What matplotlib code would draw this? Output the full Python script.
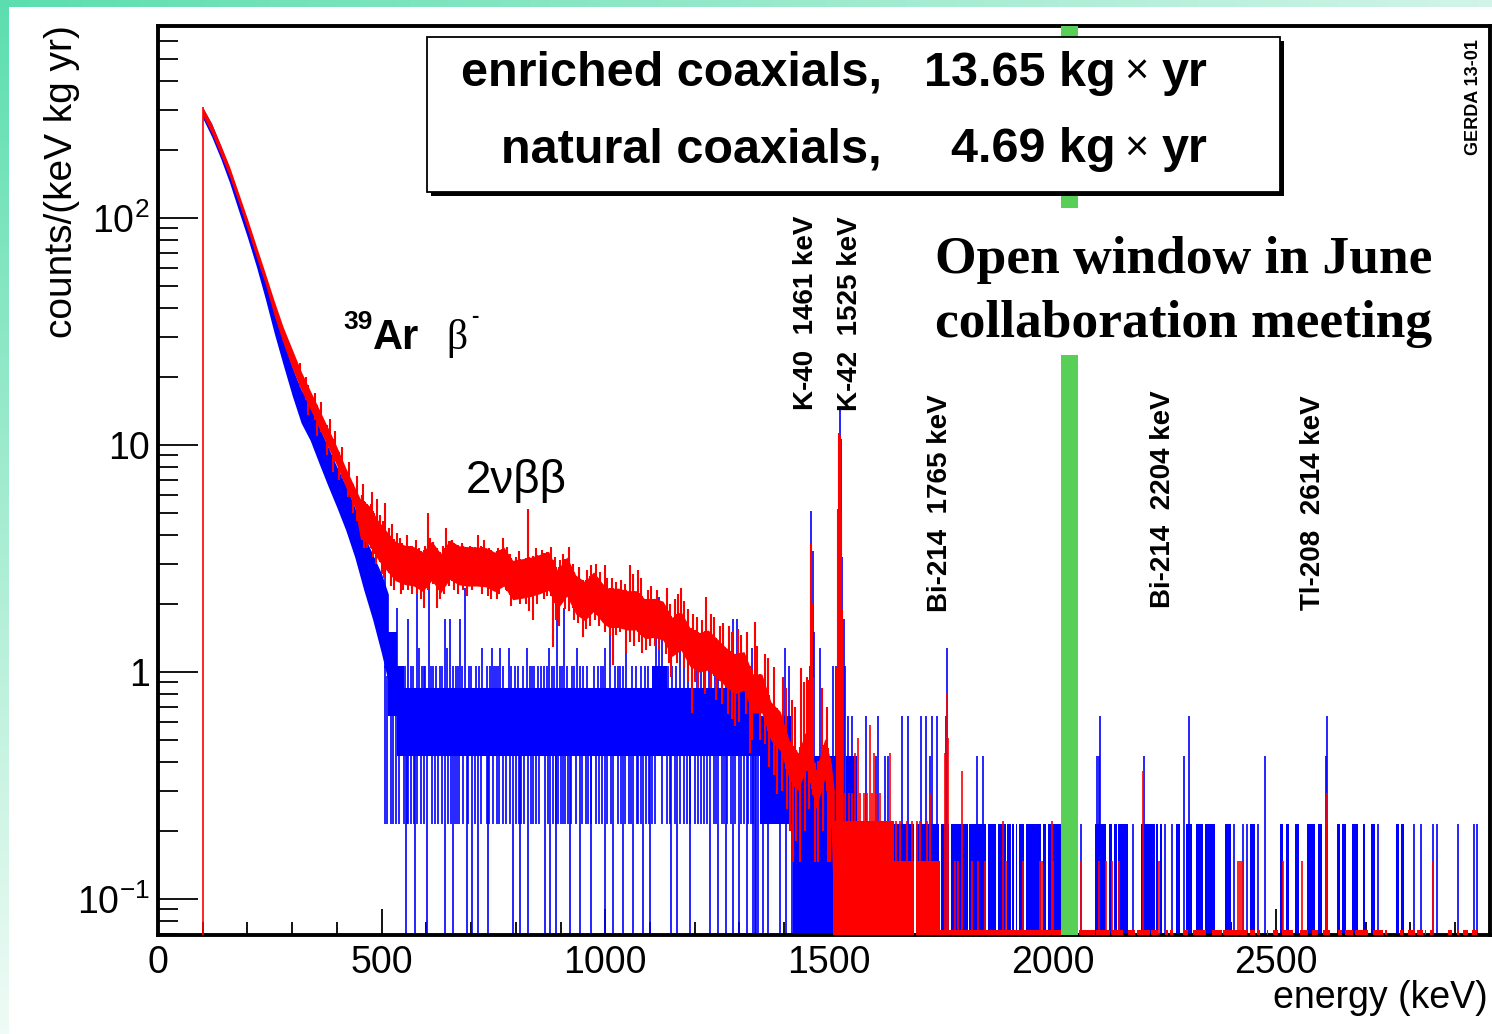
import numpy as np
import matplotlib
matplotlib.use("Agg")
import matplotlib.pyplot as plt
from matplotlib.patches import Rectangle
from matplotlib.ticker import MultipleLocator, NullFormatter

plt.rcParams["font.family"] = ["Liberation Sans", "DejaVu Sans"]
plt.rcParams["mathtext.fontset"] = "custom"
plt.rcParams["mathtext.rm"] = "Liberation Sans"
plt.rcParams["mathtext.it"] = "Liberation Sans:italic"
plt.rcParams["mathtext.bf"] = "Liberation Sans:bold"

W, H = 1492, 1034
RED, BLUE, GREEN = "#ff0000", "#0000ff", "#58d058"

EXPO_ENR = 13.65   # kg yr, enriched coaxials
EXPO_NAT = 4.69    # kg yr, natural coaxials
YMIN, YMAX = 0.0694, 700.0
XMAX = 2978
BLIND_WINDOW = (2019, 2057)

# ---- enriched coaxials: core of the continuum, counts/(keV kg yr) ----
red_band_e = [100, 120, 140, 160, 180, 200, 220, 240, 260, 280, 300, 320, 340, 360, 380, 400, 420, 440,
              452, 472, 492, 511, 531, 551, 572, 592, 612, 632, 652, 672, 692, 712, 733, 753, 773, 793,
              813, 833, 853, 873, 893, 914, 934, 954, 974, 994, 1008, 1029, 1049, 1069, 1089, 1109, 1129, 1149,
              1169, 1189, 1210, 1230, 1250, 1270, 1290, 1310, 1330, 1350, 1370, 1391, 1411, 1431, 1450, 1471,
              1491, 1505, 1512]
red_band_hi = [308, 260, 210, 168, 129, 99, 75, 57, 43, 33, 26.4, 21.1, 17.4, 14.4, 11.9, 9.8, 7.9, 6.5,
               5.8, 5.4, 4.65, 4.17, 3.75, 3.62, 3.56, 3.37, 3.77, 3.32, 3.81, 3.6, 3.56, 3.55, 3.53, 3.37, 3.55, 3.1,
               3.15, 3.2, 3.29, 3.4, 2.81, 3.21, 2.67, 2.5, 2.76, 2.45, 2.33, 2.34, 2.28, 2.28, 2.09, 2.11, 2.05, 1.74,
               1.85, 1.57, 1.49, 1.53, 1.4, 1.28, 1.2, 1.23, 0.98, 0.98, 0.74, 0.67, 0.5, 0.44, 0.56, 0.37,
               0.51, 0.4, 0.3]
red_band_lo = [282, 236, 190, 152, 117, 89, 67, 51, 37, 28, 21.8, 17.5, 14.4, 11.9, 9.8, 8.1, 6.5, 5.3,
               3.9, 3.63, 3.12, 2.8, 2.52, 2.43, 2.39, 2.26, 2.53, 2.23, 2.56, 2.42, 2.39, 2.39, 2.37, 2.26, 2.39, 2.08,
               2.11, 2.15, 2.21, 2.29, 1.89, 2.16, 1.8, 1.68, 1.85, 1.65, 1.57, 1.57, 1.53, 1.53, 1.4, 1.42, 1.38, 1.17,
               1.25, 1.06, 1.0, 1.02, 0.94, 0.86, 0.8, 0.83, 0.66, 0.66, 0.5, 0.45, 0.34, 0.3, 0.38, 0.25,
               0.34, 0.2, 0.0733]

# bins sticking out above the core (keV, counts/(keV kg yr)), incl. K-40 / K-42 lines
red_spike_e = [318, 331, 352, 365, 384, 395, 412, 427, 446, 458, 478, 490,
               456, 463, 476, 484, 497, 503, 508, 517, 523, 534, 540, 546, 556, 563, 577, 584, 598, 603,
               609, 617, 627, 637, 645, 657, 664, 679, 686, 698, 705, 716, 722, 729, 741, 760, 766, 772,
               780, 787, 800, 806, 818, 828, 845, 858, 866, 879, 887, 899, 905, 920, 928, 942, 960, 968,
               980, 988, 999, 1003, 1015, 1023, 1036, 1043, 1055, 1062, 1074, 1080, 1095, 1102, 1115, 1137,
               1145, 1156, 1163, 1170, 1177, 1184, 1197, 1204, 1217, 1226, 1237, 1244, 1257, 1264, 1277,
               1284, 1297, 1303, 1317, 1334, 1340, 1357, 1364, 1377, 1398, 1405, 1418, 1425, 1438, 1444,
               1452, 1484, 1495,
               1456, 1459, 1462, 1465, 1519, 1521, 1523, 1525, 1527, 1529]
red_spike_v = [23, 20, 17, 15.5, 13, 11.5, 9.8, 8.4, 7.3, 6.7, 6.2, 5.8,
               6.0, 5.6, 5.5, 5.0, 4.9, 4.6, 5.55, 4.3, 4.5, 4.1, 3.9, 3.7, 4.0, 3.6, 3.8, 3.5, 3.6, 5.0,
               3.9, 3.5, 3.4, 3.6, 4.3, 3.8, 3.5, 3.7, 3.45, 3.6, 3.4, 4.0, 3.6, 3.8, 3.5, 3.5, 3.4, 3.9,
               3.55, 3.3, 3.2, 3.4, 3.1, 5.2, 3.5, 3.45, 3.3, 3.55, 3.2, 3.1, 3.3, 3.55, 3.0, 2.9, 2.8, 2.95,
               3.0, 2.75, 2.96, 2.6, 2.6, 2.5, 2.55, 2.45, 2.96, 2.7, 2.8, 2.6, 2.3, 2.4, 2.3, 2.34,
               2.0, 2.1, 2.2, 2.35, 2.05, 1.9, 1.8, 1.75, 1.7, 2.14, 1.8, 1.75, 1.6, 1.65, 1.6,
               1.5, 1.55, 1.45, 1.5, 1.66, 1.3, 1.2, 1.15, 1.05, 0.95, 0.85, 0.75, 0.7, 1.04, 0.9,
               0.95, 0.85, 0.7,
               0.92, 3.66, 2.0, 0.95, 1.05, 5.2, 11.3, 11.0, 5.0, 1.87]
# bins falling below the core
red_dip_e = [335, 356, 377, 392, 405, 424, 437, 455, 468, 487,
             460, 480, 500, 506, 520, 527, 543, 548, 560, 568, 580, 588, 595, 604, 614, 624, 630, 640, 650,
             662, 670, 683, 690, 702, 709, 725, 738, 745, 757, 763, 778, 790, 803, 810, 822, 830, 839, 848,
             862, 870, 883, 890, 897, 910, 918, 931, 940, 950, 958, 965, 978, 985, 1000, 1011, 1017, 1025,
             1033, 1047, 1055, 1065, 1075, 1081, 1092, 1100, 1112, 1120, 1135, 1142, 1148, 1160, 1175, 1184,
             1193, 1200, 1207, 1222, 1236, 1248, 1262, 1275, 1283, 1290, 1300, 1315, 1323, 1327, 1345, 1356,
             1366, 1378, 1383, 1396, 1407, 1414, 1420, 1426, 1435, 1446, 1455, 1468, 1476, 1486, 1497, 1503,
             1517]
red_dip_v = [13.5, 11, 9, 7.6, 7.0, 5.9, 5.0, 3.8, 3.5, 3.0,
             3.5, 3.2, 2.7, 2.6, 2.4, 2.3, 2.2, 2.3, 2.3, 2.2, 2.2, 2.1, 1.91, 2.3, 2.45, 1.91, 2.1, 2.2, 2.4,
             2.3, 2.2, 2.3, 2.15, 2.3, 2.4, 2.2, 2.15, 2.1, 2.1, 2.2, 2.3, 1.95, 2.1, 2.0, 2.0, 1.85, 1.69, 2.0,
             2.1, 2.15, 1.29, 1.7, 1.6, 1.9, 1.85, 1.7, 1.65, 1.43, 1.55, 1.6, 1.7, 1.6, 1.5, 1.45, 1.07, 1.45,
             1.5, 1.21, 1.35, 1.3, 1.35, 1.21, 1.25, 1.3, 1.3, 1.25, 1.2, 1.1, 0.95, 1.1, 1.05, 0.9,
             0.66, 0.9, 0.85, 0.8, 0.85, 0.75, 0.72, 0.65, 0.62, 0.58, 0.6, 0.65, 0.44, 0.5, 0.5, 0.48,
             0.38, 0.35, 0.29, 0.3, 0.25, 0.2, 0.146, 0.18, 0.146, 0.2, 0.25, 0.146, 0.146, 0.2, 0.146, 0.146,
             0.0733]

# above the K-42 line: (start keV, end keV, counts per bin) filled from zero
red_runs = [(1510, 1530, 3), (1530, 1622, 3), (1622, 1645, 3), (1645, 1690, 2), (1694, 1748, 2)]
red_floor_runs = [(1748, 2019), (2060, 2095), (2098, 2128), (2132, 2158), (2169, 2184), (2188, 2218),
                  (2221, 2236), (2251, 2259), (2262, 2270), (2292, 2303), (2315, 2344), (2356, 2378),
                  (2382, 2434), (2441, 2452), (2456, 2464), (2479, 2482), (2493, 2505), (2512, 2538),
                  (2553, 2572), (2579, 2594), (2605, 2620), (2639, 2646), (2654, 2672), (2676, 2706),
                  (2717, 2739), (2743, 2747), (2777, 2784), (2795, 2810), (2814, 2829), (2833, 2836),
                  (2844, 2848), (2885, 2893), (2904, 2908), (2918, 2929), (2938, 2950)]
red_event_e = [1535, 1545, 1552, 1558, 1566, 1570, 1578, 1586, 1592, 1597, 1600, 1606, 1615, 1636,
               1651, 1659, 1674, 1685, 1696, 1704, 1719, 1726, 1760, 1763,
               1766, 1782, 1789, 1797, 1819, 1834, 1849, 1890, 1897, 1935, 1972, 1976, 1998, 2002, 2063,
               2104, 2119, 2132, 2148, 2203, 2239, 2414, 2418, 2424, 2516, 2557, 2612, 2614, 2851]
red_event_n = [4, 4, 4, 6, 7, 4, 4, 4, 8, 4, 6, 4, 4, 6,
               3, 3, 3, 3, 3, 3, 3, 4, 6, 11,
               7, 2, 2, 5, 2, 2, 2, 3, 2, 2, 2, 2, 3, 2, 2,
               2, 2, 2, 2, 5, 2, 2, 2, 2, 2, 2, 3, 4, 2]

# ---- natural coaxials: continuum, counts/(keV kg yr) ----
blue_band_e = [100, 120, 140, 160, 180, 200, 220, 240, 260, 280, 300, 320, 340, 360, 380, 400, 420, 440,
               460, 480, 500, 515]
blue_band_hi = [305, 260, 208, 165, 126, 97, 73, 54, 39, 29, 22, 17.5, 15, 12, 9.8, 8.0, 6.6, 5.3,
                4.0, 3.3, 2.7, 2.2]
blue_band_lo = [275, 228, 183, 143, 108, 82, 61, 44, 31, 22.5, 16.5, 12.5, 10.5, 8.3, 6.6, 5.3, 4.2, 3.2,
                2.3, 1.7, 1.2, 0.9]

# flat part: segment edges (keV) with the counts range the bins fill
blue_seg_edges = [515, 535, 549, 1104, 1137, 1346, 1420, 1512]
blue_seg_hi = [7, 5, 4, 5, 4, 3, 2]
blue_seg_lo = [3, 2, 2, 2, 2, 1, 0]

blue_spike_e = [508, 534, 560, 579, 605, 642, 652, 676, 687, 747, 765, 784, 825, 892, 907, 937, 1000, 1010,
                1113, 1120, 1127, 1167, 1286, 1294, 1327, 1402, 1410, 1480, 1510, 1516,
                520, 528, 545, 566, 590, 598, 615, 630, 660, 680, 695, 712, 735, 742, 756, 790, 798, 815,
                840, 850, 862, 880, 898, 915, 925, 950, 960, 983, 990, 1022, 1040, 1060, 1080, 1095, 1150,
                1175, 1195, 1205, 1220, 1245, 1262, 1305, 1312,
                553, 571, 584, 594, 611, 621, 636, 646, 666, 671, 700, 718, 724, 752, 760, 771, 804, 832,
                836, 856, 869, 874, 885, 903, 931, 944, 975, 996, 1028, 1033, 1047, 1068, 1088, 1141,
                1158, 1185, 1214, 1232, 1253, 1270, 1279, 1300,
                1458, 1460, 1464, 1467, 1522, 1524, 1526, 1529, 1533, 1537]
blue_spike_n = [17, 9, 8, 12, 16, 8, 8, 8, 11, 6, 6, 6, 6, 9, 9, 6, 6, 7,
                9, 10, 9, 6, 8, 8, 6, 6, 5, 6, 5, 5,
                5, 5, 5, 5, 5, 5, 5, 5, 5, 5, 5, 5, 5, 5, 5, 5, 5, 5,
                5, 5, 5, 5, 5, 5, 5, 5, 5, 5, 5, 5, 5, 5, 5, 5, 5,
                5, 5, 5, 5, 5, 5, 5, 5,
                5, 5, 6, 5, 5, 5, 5, 6, 5, 5, 5, 5, 6, 5, 5, 5, 5, 5,
                5, 5, 5, 6, 5, 5, 5, 5, 5, 5, 5, 5, 6, 5, 5, 5,
                5, 5, 5, 5, 5, 5, 5, 5,
                5, 24, 16, 7, 20, 67, 50, 15, 8, 5]
blue_zero_e = [555, 575, 601, 642, 660, 690, 701, 716, 738, 794, 810, 828, 865, 876, 890, 922, 943, 968,
               999, 1018, 1040, 1063, 1085, 1100, 1148, 1160, 1190, 1234, 1253, 1270, 1286, 1298, 1316,
               1330, 1335, 1338, 1342, 1353, 1364, 1391, 1403, 1417]
blue_one_e = [507, 512, 520, 525, 531, 538, 551, 556, 559, 565, 572, 578, 587, 594, 612, 620, 626, 636, 649,
              655, 663, 668, 674, 683, 694, 708, 722, 735, 741, 750, 757, 763, 772, 779, 786, 800, 806, 812,
              818, 833, 839, 846, 852, 871, 883, 889, 895, 900, 906, 911, 917, 924, 935, 949, 956, 962, 968,
              979, 985, 992, 1004, 1012, 1029, 1036, 1043, 1052, 1058, 1070, 1074, 1080, 1090, 1097, 1104,
              1112, 1126, 1138, 1145, 1155, 1168, 1175, 1182, 1190, 1200, 1207, 1214, 1220, 1228, 1242,
              1248, 1260, 1266, 1273, 1280, 1291, 1303, 1310, 1320, 1326, 1331]

blue_runs = [(1512, 1520, 2), (1538, 1562, 2), (1562, 1640, 1), (1644, 1690, 1), (1694, 1746, 1),
             (1750, 1769, 1), (1773, 1810, 1), (1814, 1851, 1), (1855, 1873, 1), (1877, 1895, 1),
             (1899, 1906, 1), (1910, 1914, 1), (1918, 1921, 1), (1925, 1936, 1), (1940, 1974, 1),
             (1978, 1985, 1), (1989, 2019, 1), (2095, 2119, 1), (2127, 2132, 1), (2137, 2143, 1),
             (2147, 2169, 1), (2197, 2229, 1), (2231, 2236, 1), (2240, 2244, 1), (2277, 2286, 1),
             (2298, 2311, 1), (2321, 2337, 1), (2341, 2364, 1), (2385, 2399, 1), (2441, 2452, 1),
             (2508, 2516, 1), (2523, 2528, 1), (2542, 2552, 1), (2568, 2587, 1), (2593, 2603, 1),
             (2609, 2616, 1), (2636, 2642, 1), (2646, 2656, 1), (2670, 2683, 1), (2693, 2699, 1),
             (2713, 2720, 1), (2767, 2774, 1), (2780, 2786, 1)]
blue_event_e = [1543, 1551, 1584, 1605, 1610, 1625, 1633, 1664, 1676, 1705, 1717, 1726, 1730, 1741, 1762,
                1764, 1830, 1845, 2063, 2099, 2103, 2107, 2180, 2204, 2251, 2268, 2294, 2305, 2406, 2425,
                2434, 2460, 2476, 2611, 2614, 2727, 2808, 2824, 2851, 2859, 2906, 2943, 2950]
blue_event_n = [3, 3, 3, 2, 3, 2, 2, 3, 3, 3, 3, 2, 3, 3, 3,
                6, 2, 2, 1, 2, 2, 3, 1, 2, 1, 1, 2, 3, 1, 1,
                1, 1, 2, 2, 3, 1, 1, 1, 1, 1, 1, 1, 1]

peak_labels = ["K-40  1461 keV", "K-42  1525 keV", "Bi-214  1765 keV", "Bi-214  2204 keV", "Tl-208  2614 keV"]
x_tick_values = [0, 500, 1000, 1500, 2000, 2500]
y_tick_values = [0.1, 1, 10, 100]
y_tick_labels = [r"$10^{-1}$", "1", "10", r"$10^{2}$"]


def px(x, y):
    # pixel position (from top-left) -> figure fraction
    return x / W, 1 - y / H


fig = plt.figure(figsize=(W / 100, H / 100), dpi=100)

# slide frame: teal gradient strips along the left and top edges
bg = fig.add_axes([0, 0, 1, 1], zorder=-10)
img = np.ones((H, W, 3))
teal = np.array([0.36, 0.87, 0.69])
pale = np.array([0.94, 0.985, 0.965])
t = np.linspace(0, 1, H)[:, None]
img[:, :9, :] = (teal * (1 - t) + pale * t)[:, None, :]
s = np.linspace(0, 1, W)[:, None]
img[:7, :, :] = (teal * (1 - s) + np.array([0.82, 0.96, 0.91]) * s)[None, :, :]
bg.imshow(img, aspect="auto", interpolation="bilinear")
bg.axis("off")

ax = fig.add_axes([158 / W, 1 - 935 / H, (1490 - 158) / W, (935 - 26) / H])
ax.set_yscale("log")
ax.set_xlim(0, XMAX)
ax.set_ylim(YMIN, YMAX)

LW = 1.2

# natural coaxials (blue)
ax.fill_between(blue_band_e, blue_band_lo, blue_band_hi, color=BLUE, lw=0, zorder=2)
edges = np.array(blue_seg_edges, float)
seg_hi = np.array(blue_seg_hi) / EXPO_NAT
seg_lo = np.maximum(np.array(blue_seg_lo) / EXPO_NAT, YMIN)
ax.fill_between(edges, np.append(seg_lo, seg_lo[-1]), np.append(seg_hi, seg_hi[-1]),
                step="post", color=BLUE, lw=0, zorder=2)


def blue_floor(e):
    e = np.asarray(e, float)
    idx = np.clip(np.searchsorted(edges, e, side="right") - 1, 0, len(seg_lo) - 1)
    out = np.where(e < edges[0], np.interp(e, blue_band_e, blue_band_lo), seg_lo[idx])
    return np.where(e >= edges[-1], YMIN, out)


ax.vlines(blue_spike_e, blue_floor(blue_spike_e), np.array(blue_spike_n) / EXPO_NAT,
          color=BLUE, lw=LW, zorder=2)
ax.vlines(blue_zero_e, YMIN, blue_floor(blue_zero_e), color=BLUE, lw=LW, zorder=2)
ax.vlines(blue_one_e, 1 / EXPO_NAT, blue_floor(blue_one_e), color=BLUE, lw=LW, zorder=2)
for e0, e1, n in blue_runs:
    ax.fill_between([e0, e1], YMIN, n / EXPO_NAT, color=BLUE, lw=0, zorder=2)
ax.vlines(blue_event_e, YMIN, np.array(blue_event_n) / EXPO_NAT, color=BLUE, lw=LW, zorder=2)

# enriched coaxials (red)
ax.vlines(red_band_e[0], YMIN, red_band_hi[0], color=RED, lw=LW, zorder=3)
ax.fill_between(red_band_e, red_band_lo, red_band_hi, color=RED, lw=0, zorder=3)
ax.vlines(red_spike_e, np.interp(red_spike_e, red_band_e, red_band_lo), red_spike_v,
          color=RED, lw=1.5, zorder=3)
ax.vlines(red_dip_e, np.maximum(red_dip_v, YMIN), np.interp(red_dip_e, red_band_e, red_band_hi),
          color=RED, lw=1.5, zorder=3)
for e0, e1, n in red_runs:
    ax.fill_between([e0, e1], YMIN, n / EXPO_ENR, color=RED, lw=0, zorder=3)
for e0, e1 in red_floor_runs:
    ax.fill_between([e0, e1], YMIN, 1 / EXPO_ENR, color=RED, lw=0, zorder=3)
ax.vlines(red_event_e, YMIN, np.array(red_event_n) / EXPO_ENR, color=RED, lw=LW, zorder=3)

# blinded window around Q_bb
ax.axvspan(*BLIND_WINDOW, color=GREEN, lw=0, zorder=4)

# axes styling
for side in ["left", "right", "top", "bottom"]:
    ax.spines[side].set_linewidth(2.8)
ax.set_xticks(x_tick_values)
ax.set_xticklabels([str(v) for v in x_tick_values])
ax.xaxis.set_minor_locator(MultipleLocator(100))
ax.set_yticks(y_tick_values)
ax.set_yticklabels(y_tick_labels)
ax.yaxis.set_minor_formatter(NullFormatter())
ax.tick_params(axis="y", which="major", direction="in", length=29, width=1.3, pad=6,
               labelsize=27, right=False)
ax.tick_params(axis="y", which="minor", direction="in", length=14.5, width=1.3, right=False)
ax.tick_params(axis="x", which="major", direction="in", length=19, width=1.3, pad=7,
               labelsize=27, top=False)
ax.tick_params(axis="x", which="minor", direction="in", length=9.5, width=1.3, top=False)

fig.text(*px(62, 182), "counts/(keV kg yr)", rotation=90, ha="center", va="center", fontsize=28)
fig.text(*px(1488, 998), "energy (keV)", ha="right", va="center", fontsize=27)

# exposure box with drop shadow
fig.add_artist(Rectangle(px(431, 196), (1280 - 427) / W, (192 - 37) / H, transform=fig.transFigure,
                         facecolor="black", edgecolor="none", zorder=5))
fig.add_artist(Rectangle(px(427, 192), (1280 - 427) / W, (192 - 37) / H, transform=fig.transFigure,
                         facecolor="white", edgecolor="black", lw=1.3, zorder=6))
for yc, left, num in [(73, "enriched coaxials,", "13.65 kg"), (150, "natural coaxials,", "4.69 kg")]:
    fig.text(*px(882, yc), left, ha="right", va="center", fontsize=35, fontweight="bold", zorder=7)
    fig.text(*px(1116, yc), num, ha="right", va="center", fontsize=35, fontweight="bold", zorder=7)
    fig.text(*px(1136, yc), "×", ha="center", va="center", fontsize=30, zorder=7)
    fig.text(*px(1208, yc), "yr", ha="right", va="center", fontsize=35, fontweight="bold", zorder=7)

# open-window note over the blinded band
fig.add_artist(Rectangle(px(925, 355), 515 / W, 147 / H, transform=fig.transFigure,
                         facecolor="white", edgecolor="none", zorder=5))
serif = ["Liberation Serif", "DejaVu Serif"]
fig.text(*px(935, 273), "Open window in June", family=serif, fontweight="bold", fontsize=38.5,
         va="baseline", zorder=7)
fig.text(*px(935, 337), "collaboration meeting", family=serif, fontweight="bold", fontsize=38.5,
         va="baseline", zorder=7)

# line labels
for (x, y), label in zip([(806, 410), (850, 411), (940, 612), (1163, 608), (1313, 610)], peak_labels):
    fig.text(*px(x, y), label, rotation=90, ha="center", va="bottom", fontsize=20, fontweight="bold")

fig.text(*px(343, 329), "39", fontsize=19, fontweight="bold", va="baseline")
fig.text(*px(373, 349), "Ar", fontsize=30, fontweight="bold", va="baseline")
fig.text(*px(446, 349), "β", fontsize=30, family=serif, va="baseline")
fig.text(*px(471, 322), "-", fontsize=16, fontweight="bold", va="baseline")
fig.text(*px(466, 493), "2νββ", fontsize=33, va="baseline")

fig.text(*px(1474, 97), "GERDA 13-01", rotation=90, ha="center", va="center", fontsize=13,
         fontweight="bold")

fig.savefig("out.png", dpi=100)
